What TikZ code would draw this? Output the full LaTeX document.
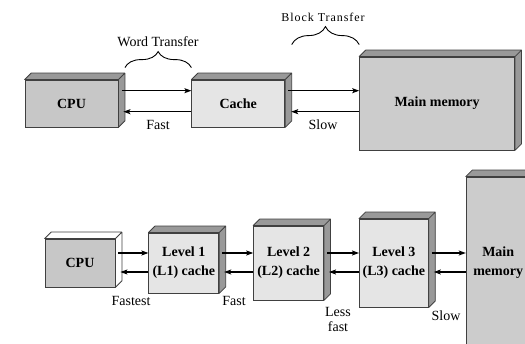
\documentclass[tikz,border=0pt]{standalone}
\usepackage{fontspec}
\setmainfont{Liberation Serif}
\newfontfamily\spacedserif[LetterSpace=8]{Liberation Serif}
\usetikzlibrary{arrows.meta,positioning,decorations.pathreplacing}
\tikzset{
  unit/.style    ={draw=black!75,line width=0.8pt,align=center,inner sep=0pt,
                   font=\bfseries\fontsize{14}{19}\selectfont},
  cpubox/.style  ={unit,fill=black!22},
  cachebox/.style={unit,fill=black!10},
  membox/.style  ={unit,fill=black!20},
  lbl/.style     ={align=center,inner sep=0pt,font=\fontsize{14}{15}\selectfont},
  ar/.style      ={-{Stealth[length=7pt,width=5pt,inset=1.5pt]},line width=1.1pt},
  brc/.style     ={decorate,decoration={brace,amplitude=#1},line width=0.9pt},
}
% top and side faces of a box
\newcommand{\boxslab}[2]{%
  \draw[draw=black!75,line width=0.8pt,line join=round,fill=#2]
    (#1.north west) -- ++(6.5pt,6.5pt) -- ([shift={(6.5pt,6.5pt)}]#1.north east)
    -- ([shift={(6.5pt,6.5pt)}]#1.south east) -- (#1.south east) -- (#1.north east) -- cycle
    (#1.north east) -- ++(6.5pt,6.5pt);}

\begin{document}
\begin{tikzpicture}[x=1pt,y=-1pt]
\useasboundingbox (0,0) rectangle (525,344);
\clip (0,0) rectangle (525,344);
% (a) single cache
\node[cpubox,minimum width=93pt,minimum height=47pt] (cpu) at (71.5,103.5) {CPU};
\node[cachebox,minimum width=93pt,minimum height=47pt,right=73pt of cpu] (cache) {Cache};
\node[membox,minimum width=155pt,minimum height=93pt,right=74pt of cache] (mem) {Main memory};
\boxslab{cpu}{black!40} \boxslab{cache}{black!40} \boxslab{mem}{black!40}
\draw[ar] ([xshift=4pt,yshift=12.8pt]cpu.east) -- ([yshift=12.8pt]cache.west);
\draw[ar] ([yshift=-8.2pt]cache.west) -- ([xshift=5pt,yshift=-8.2pt]cpu.east);
\draw[ar] ([xshift=3pt,yshift=12.8pt]cache.east) -- ([yshift=12.8pt]mem.west);
\draw[ar] ([yshift=-8.2pt]mem.west) -- ([xshift=6pt,yshift=-8.2pt]cache.east);
\node[lbl] (fastA) at (158,125) {Fast};
\node[lbl] (slowA) at (323,125) {Slow};
\draw[brc=16pt] ([xshift=6.5pt,yshift=12pt]cpu.north east) -- ([yshift=12pt]cache.north west);
\coordinate (blk) at ([xshift=6.5pt,yshift=35pt]cache.north east);
\draw[brc=18pt] (blk) -- (blk -| mem.west);
\node[lbl] (word) at (158,42) {Word Transfer};
\node[lbl,font=\spacedserif\fontsize{12}{14}\selectfont] (block) at (323,17) {Block Transfer};
% (b) three-level cache
\node[cpubox,minimum width=70pt,minimum height=48pt] (cpuB) at (80,263) {CPU};
\node[cachebox,minimum width=70pt,minimum height=60pt,right=33pt of cpuB] (lone) {Level 1\\(L1) cache};
\node[cachebox,minimum width=70pt,minimum height=74pt,right=34pt of lone] (ltwo) {Level 2\\(L2) cache};
\node[cachebox,minimum width=69pt,minimum height=88pt,right=35pt of ltwo] (lthree) {Level 3\\(L3) cache};
\node[membox,minimum width=64pt,minimum height=172pt,right=37pt of lthree] (memB) {Main\\memory};
\boxslab{cpuB}{white} \boxslab{lone}{black!40} \boxslab{ltwo}{black!40}
\boxslab{lthree}{black!40} \boxslab{memB}{black!40}
\foreach \a/\b in {cpuB/lone,lone/ltwo,ltwo/lthree,lthree/memB}{
  \draw[ar] ([xshift=3pt,yshift=10pt]\a.east) -- ([yshift=10pt]\b.west);
  \draw[ar] ([yshift=-9pt]\b.west) -- ([xshift=5pt,yshift=-9pt]\a.east);
}
\node[lbl] (fastest) at (131,301) {Fastest};
\node[lbl] (fastB) at (234,301) {Fast};
\node[lbl] (lessfast) at (338,319.5) {Less\\fast};
\node[lbl] (slowB) at (446,316) {Slow};
\end{tikzpicture}
\end{document}
